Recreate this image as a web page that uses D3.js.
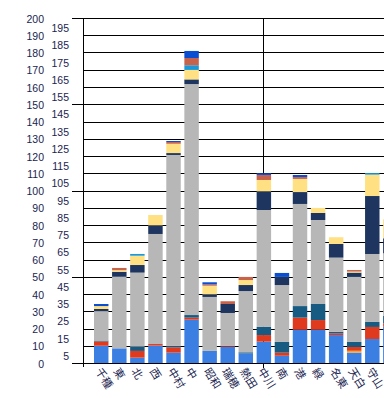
<!DOCTYPE html>
<html>
<head>
<meta charset="utf-8">
<script src="https://cdn.jsdelivr.net/npm/d3@7"></script>
<style>
  body { margin: 0; background: #fff; }
  svg { display: block; }
</style>
</head>
<body>
<div id="chart"></div>
<script>
// wards (17th bar is cut off at the right edge)
const wards = ["千種", "東", "北", "西", "中村", "中", "昭和", "瑞穂", "熱田", "中川", "南", "港", "緑", "名東", "天白", "守山", "その他"];

// series, bottom to top
const seriesKeys = ["s1", "s2", "s3", "s4", "s5", "s6", "s7", "s8", "s9", "s10"];
const s1  = [10, 8.5, 3.1, 10.1, 6, 25.1, 7, 9.5, 5.6, 12.4, 4.2, 19.3, 19.3, 16.2, 6, 13.9, 21];
const s2  = [0, 0, 0, 0, 0, 0, 0, 0, 0, 0, 0, 0, 0, 0, 1.1, 0, 0];
const s3  = [2.5, 0, 3.9, 0.9, 3.1, 1.2, 0, 0.6, 0, 3.8, 1.8, 7, 5.6, 1, 2.2, 7, 2];
const s4  = [0.5, 0, 2.5, 0, 0.8, 1.5, 0, 0, 0.6, 4.7, 6.2, 6.7, 9.3, 0.9, 2.9, 2.9, 4.4];
const s5  = [17.1, 41.5, 42.9, 63.8, 110.7, 133.9, 31.3, 18.9, 35.5, 67.8, 33, 59.2, 48.7, 43, 37.7, 39.4, 36.2];
const s6  = [1.2, 2.9, 4.4, 5, 1.1, 2.7, 1.5, 5.2, 3.5, 10.8, 4.7, 6.9, 4.1, 7.9, 2.5, 33.6, 8.7];
const s7  = [1.7, 0.9, 5.4, 6, 5.4, 5.5, 5, 0, 2.9, 6.6, 0, 7.6, 2.9, 3.9, 0.6, 12.4, 11];
const s8  = [0, 0, 1, 0, 0, 2.7, 0, 0, 0, 0, 0, 0, 0, 0, 0, 0.9, 0];
const s9  = [0, 1.3, 0, 0, 1, 4.2, 0.8, 1.6, 1.8, 2.9, 0, 1.1, 0, 0, 0.9, 0, 0];
const s10 = [1.2, 0, 0, 0, 0.6, 4.1, 1.2, 0, 0, 1, 2.3, 1.2, 0, 0, 0, 0, 0];

const colors = ["#3b7fe3", "#f5a52a", "#e03a1e", "#175b82", "#b7b7b7", "#1d355f", "#ffe082", "#1a98d8", "#c8634b", "#0a4fd2"];

// y tick labels: two columns
const ticksMain = d3.range(0, 201, 10);
const ticksHalf = d3.range(5, 200, 10);
const ticksMajor = [0, 50, 100, 150, 200];

const width = 384, height = 398;
const axisX = 83;

const svg = d3.select("#chart")
  .append("svg")
  .attr("width", width)
  .attr("height", height);

const y = d3.scaleLinear().domain([0, 200]).range([363, 18]);

const step = 18.07;
const x = d3.scaleBand()
  .domain(wards)
  .range([92.2, 92.2 + wards.length * step])
  .paddingInner(0.2)
  .paddingOuter(0.1);

const rows = wards.map((w, i) => {
  const r = { ward: w };
  [s1, s2, s3, s4, s5, s6, s7, s8, s9, s10].forEach((s, k) => { r[seriesKeys[k]] = s[i]; });
  return r;
});

const stacked = d3.stack().keys(seriesKeys)(rows);

const snap = v => Math.round(v) + 0.5;

// gridlines
svg.append("g")
  .selectAll("line")
  .data(ticksMain)
  .enter()
  .append("line")
  .attr("x1", d => ticksMajor.includes(d) ? 72 : axisX)
  .attr("x2", width)
  .attr("y1", d => snap(y(d)))
  .attr("y2", d => snap(y(d)))
  .attr("stroke", "#000")
  .attr("stroke-width", 1);

// axis line + middle line
svg.append("line")
  .attr("x1", axisX + 0.5).attr("x2", axisX + 0.5)
  .attr("y1", snap(y(200))).attr("y2", 367)
  .attr("stroke", "#000");

const midX = snap(x("中川") + x.bandwidth() / 2 - 0.5);
svg.append("line")
  .attr("x1", midX).attr("x2", midX)
  .attr("y1", snap(y(200))).attr("y2", 368)
  .attr("stroke", "#000");

// bars
svg.append("g")
  .selectAll("g")
  .data(stacked)
  .enter()
  .append("g")
  .attr("fill", (d, i) => colors[i])
  .selectAll("rect")
  .data(d => d)
  .enter()
  .append("rect")
  .attr("x", d => x(d.data.ward))
  .attr("width", x.bandwidth())
  .attr("y", d => y(d[1]))
  .attr("height", d => Math.max(0, y(d[0]) - y(d[1])));

// y labels
const labelFont = "'Liberation Sans', Arial, sans-serif";
svg.append("g")
  .selectAll("text")
  .data(ticksMain)
  .enter()
  .append("text")
  .attr("x", 44)
  .attr("y", d => y(d) + 4.5)
  .attr("text-anchor", "end")
  .style("font-family", labelFont)
  .style("font-size", "10.5px")
  .attr("fill", "#1a2450")
  .text(d => d);

svg.append("g")
  .selectAll("text")
  .data(ticksHalf)
  .enter()
  .append("text")
  .attr("x", 69)
  .attr("y", d => y(d) + 5.5)
  .attr("text-anchor", "end")
  .style("font-family", labelFont)
  .style("font-size", "10.5px")
  .attr("fill", "#1a2450")
  .text(d => d);

// x labels, rotated
svg.append("g")
  .selectAll("text")
  .data(wards)
  .enter()
  .append("text")
  .attr("transform", d => `translate(${x(d) + x.bandwidth() / 2 - 3},${369}) rotate(58)`)
  .attr("dy", "0.35em")
  .style("font-family", "'Noto Sans CJK JP', sans-serif")
  .style("font-size", "11px")
  .attr("fill", "#1a2450")
  .text(d => d);
</script>
</body>
</html>
